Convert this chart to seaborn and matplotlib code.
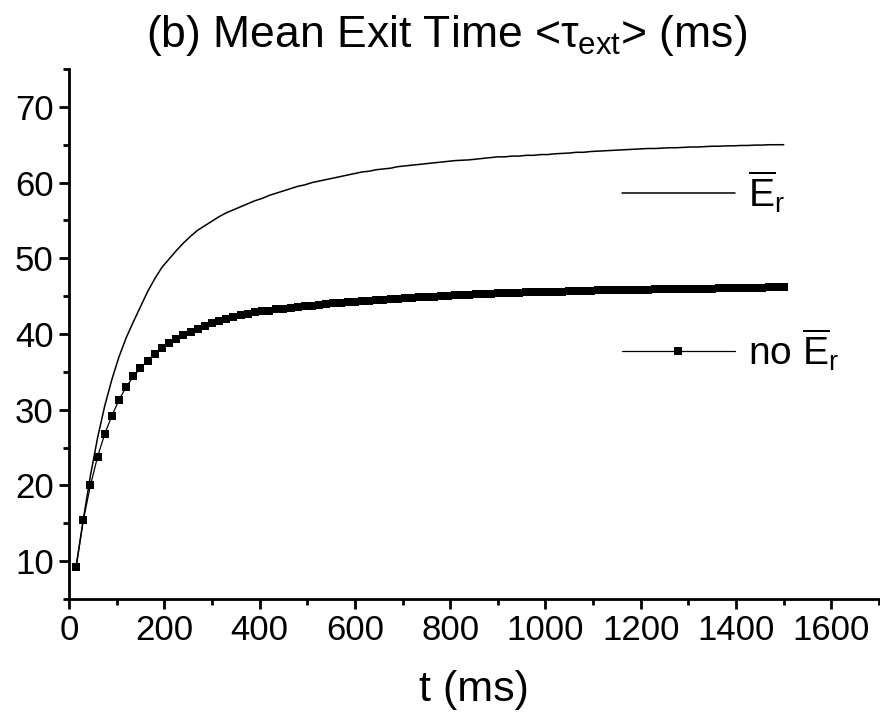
import numpy as np
import pandas as pd
import matplotlib
matplotlib.use("Agg")
import matplotlib.pyplot as plt
import seaborn as sns
from matplotlib.lines import Line2D
from matplotlib.ticker import MultipleLocator

# ---- data ----
t_ms = list(range(15, 1501, 15))  # sampling grid, 100 points

with_Er = [
    9.3, 15.5, 21.3, 26.3, 30.5, 34.0, 37.0, 39.5, 41.6, 43.6,
    45.6, 47.3, 48.8, 49.9, 51.0, 52.0, 52.9, 53.7, 54.3, 54.9,
    55.5, 56.0, 56.4, 56.8, 57.2, 57.6, 57.9, 58.3, 58.6, 58.9,
    59.2, 59.5, 59.7, 60.0, 60.2, 60.4, 60.6, 60.8, 61.0, 61.2,
    61.4, 61.5, 61.7, 61.8, 61.9, 62.1, 62.2, 62.3, 62.4, 62.5,
    62.6, 62.7, 62.8, 62.9, 62.95, 63.0, 63.1, 63.2, 63.3, 63.4,
    63.4, 63.5, 63.5, 63.6, 63.6, 63.7, 63.7, 63.8, 63.85, 63.9,
    64.0, 64.0, 64.1, 64.15, 64.2, 64.25, 64.3, 64.35, 64.4, 64.45,
    64.5, 64.5, 64.55, 64.6, 64.6, 64.65, 64.7, 64.7, 64.75, 64.8,
    64.8, 64.85, 64.85, 64.9, 64.9, 64.95, 64.95, 65.0, 65.0, 65.0,
]

no_Er = [
    9.25, 15.4, 20.0, 23.8, 26.8, 29.2, 31.3, 33.0, 34.4, 35.5,
    36.5, 37.4, 38.2, 38.8, 39.4, 39.9, 40.3, 40.7, 41.1, 41.4,
    41.7, 42.0, 42.3, 42.5, 42.7, 42.9, 43.0, 43.1, 43.25, 43.35,
    43.45, 43.55, 43.65, 43.75, 43.85, 43.95, 44.05, 44.1, 44.2, 44.25,
    44.3, 44.4, 44.45, 44.5, 44.6, 44.65, 44.7, 44.8, 44.85, 44.9,
    44.95, 45.0, 45.05, 45.1, 45.15, 45.2, 45.25, 45.3, 45.3, 45.35,
    45.4, 45.4, 45.45, 45.5, 45.5, 45.55, 45.55, 45.6, 45.6, 45.65,
    45.65, 45.7, 45.7, 45.75, 45.75, 45.8, 45.8, 45.8, 45.85, 45.85,
    45.85, 45.9, 45.9, 45.9, 45.95, 45.95, 45.95, 46.0, 46.0, 46.0,
    46.05, 46.05, 46.05, 46.1, 46.1, 46.1, 46.1, 46.15, 46.15, 46.15,
]

x_ticks = [0, 200, 400, 600, 800, 1000, 1200, 1400, 1600]
y_ticks = [10, 20, 30, 40, 50, 60, 70]

title_text = r"(b) Mean Exit Time <$\tau_{\rm ext}$> (ms)"
xlabel_text = "t (ms)"
label_with = r"$\overline{\rm E}_{\rm r}$"
label_no = r"no $\overline{\rm E}_{\rm r}$"

# ---- style ----
sns.set_theme(style="ticks")
plt.rcParams["font.family"] = ["Liberation Sans", "DejaVu Sans"]
plt.rcParams["mathtext.fontset"] = "custom"
plt.rcParams["mathtext.rm"] = "Liberation Sans"
plt.rcParams["mathtext.it"] = "Liberation Sans"
plt.rcParams["mathtext.bf"] = "Liberation Sans:bold"
plt.rcParams["text.color"] = "black"
plt.rcParams["axes.labelcolor"] = "black"
plt.rcParams["xtick.color"] = "black"
plt.rcParams["ytick.color"] = "black"

df = pd.DataFrame({"t": t_ms, "with": with_Er, "no": no_Er})

fig = plt.figure(figsize=(8.8, 7.22), dpi=100)
ax = fig.add_axes([69 / 880, (722 - 599) / 722, (879 - 69) / 880, (599 - 69) / 722])

sns.lineplot(data=df, x="t", y="with", ax=ax, color="black", linewidth=1.1)
sns.lineplot(data=df, x="t", y="no", ax=ax, color="black", linewidth=0.9,
             marker="s", markersize=5.5, markeredgewidth=0, markeredgecolor="black")

ax.set_xlim(0, 1700)
ax.set_ylim(5, 75)
ax.set_xticks(x_ticks)
ax.set_yticks(y_ticks)
ax.xaxis.set_minor_locator(MultipleLocator(100))
ax.yaxis.set_minor_locator(MultipleLocator(5))

for s in ["top", "right"]:
    ax.spines[s].set_visible(False)
for s in ["left", "bottom"]:
    ax.spines[s].set_linewidth(2.0)
    ax.spines[s].set_color("black")

ax.tick_params(axis="both", which="major", direction="out", length=7, width=2.0,
               labelsize=25, colors="black", pad=4)
ax.tick_params(axis="both", which="minor", direction="out", length=4, width=2.0,
               colors="black")

ax.set_xlabel(xlabel_text, fontsize=31, labelpad=16, color="black")
ax.set_ylabel("")
fig.text(447 / 880, 1 - 36 / 722, title_text, fontsize=32,
         ha="center", va="center", color="black")

handles = [
    Line2D([], [], color="black", linewidth=1.1),
    Line2D([], [], color="black", linewidth=0.9, marker="s", markersize=5.5,
           markeredgewidth=0),
]
ax.legend(handles, [label_with, label_no], loc="upper left",
          bbox_to_anchor=((622 - 69) / 810, (599 - 168) / 530),
          frameon=False, fontsize=28, handlelength=2.9, handletextpad=0.35,
          labelspacing=2.85, borderpad=0, borderaxespad=0, numpoints=1,
          labelcolor="black")

fig.savefig("out.png", dpi=100, facecolor="white")
